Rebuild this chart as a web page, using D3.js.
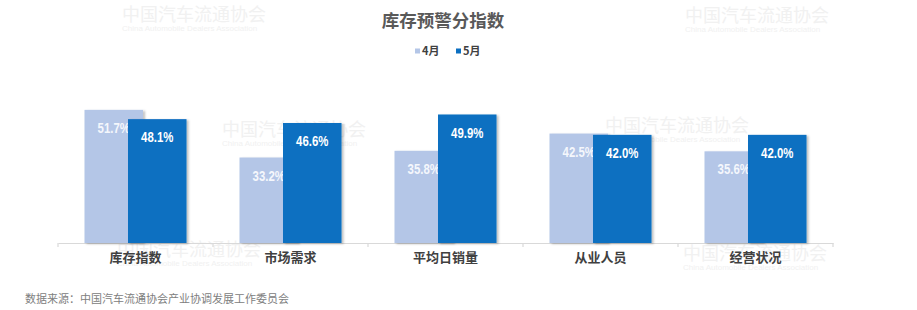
<!DOCTYPE html>
<html>
<head>
<meta charset="utf-8">
<script src="https://cdn.jsdelivr.net/npm/d3@7"></script>
<style>
  body { margin: 0; background: #fff; }
  svg { display: block; }
</style>
</head>
<body>
<svg id="chart" width="917" height="310"></svg>
<script>
// data
var categories = ["库存指数", "市场需求", "平均日销量", "从业人员", "经营状况"];
var series = ["4月", "5月"];
var april = [51.7, 33.2, 35.8, 42.5, 35.6];
var may = [48.1, 46.6, 49.9, 42.0, 42.0];
var colors = ["#b4c6e7", "#0b6fc1"];

var svg = d3.select("#chart"),
    margin = {top: 88.5, right: 84, bottom: 67, left: 58},
    width = +svg.attr("width") - margin.left - margin.right,
    height = +svg.attr("height") - margin.top - margin.bottom;

var cjk = "'Noto Sans CJK SC', 'Noto Sans', sans-serif";

// soft shadow under bars
var defs = svg.append("defs");
var f = defs.append("filter").attr("id", "shadow")
    .attr("x", "-10%").attr("y", "-10%").attr("width", "130%").attr("height", "130%");
f.append("feDropShadow")
    .attr("dx", 2).attr("dy", 1).attr("stdDeviation", 1.2)
    .attr("flood-color", "#000").attr("flood-opacity", 0.25);

// faint watermarks
var marks = [[122, 21], [685, 22], [222, 136], [605, 132], [117, 256], [683, 260]];
var wm = svg.append("g").attr("fill", "#f1f1f1");
marks.forEach(function(m) {
  wm.append("text")
      .attr("x", m[0]).attr("y", m[1])
      .style("font", "18px " + cjk)
      .text("中国汽车流通协会");
  wm.append("text")
      .attr("x", m[0]).attr("y", m[1] + 10)
      .style("font", "8px 'Liberation Sans', sans-serif")
      .text("China Automobile Dealers Association");
});

var g = svg.append("g").attr("transform", "translate(" + margin.left + "," + margin.top + ")");

var x = d3.scaleBand().domain(categories).range([0, width]);
var x1 = d3.scaleBand().domain(series).range([-51, 51]).paddingInner(-0.345);
var y = d3.scaleLinear().domain([0, 60]).range([height, 0]);

// axis
var axis = g.append("g")
    .attr("transform", "translate(0," + height + ")")
    .call(d3.axisBottom(x).tickSize(0).tickPadding(10));
axis.select(".domain").attr("stroke", "#d9d9d9").attr("stroke-width", 1.2);
axis.selectAll(".tick text")
    .style("font", "600 13px " + cjk)
    .attr("fill", "#404040");
// separator ticks between categories
g.append("g").selectAll("line")
    .data(categories.concat(["end"]))
    .enter().append("line")
    .attr("x1", function(d, i) { return i * x.step(); })
    .attr("x2", function(d, i) { return i * x.step(); })
    .attr("y1", height).attr("y2", height + 4)
    .attr("stroke", "#d9d9d9").attr("stroke-width", 1.2);

var values = [april, may];
var groups = g.selectAll(".grp")
    .data(categories)
    .enter().append("g")
    .attr("class", "grp")
    .attr("transform", function(d) { return "translate(" + (x(d) + x.bandwidth() / 2) + ",0)"; });

groups.each(function(c, i) {
  var grp = d3.select(this);
  series.forEach(function(s, k) {
    var v = values[k][i];
    grp.append("rect")
        .attr("x", x1(s))
        .attr("y", y(v))
        .attr("width", x1.bandwidth())
        .attr("height", height - y(v))
        .attr("fill", colors[k])
        .attr("filter", "url(#shadow)");
    // squeezed bold text to look like a narrow face
    grp.append("text")
        .attr("transform", "translate(" + (x1(s) + x1.bandwidth() / 2) + "," + (y(v) + 23) + ") scale(0.76,1)")
        .attr("text-anchor", "middle")
        .attr("fill", k == 0 ? "#f4f7fc" : "#fff")
        .style("font", "bold 15px 'Liberation Sans', Arial, sans-serif")
        .text(v.toFixed(1) + "%");
  });
});

// title
svg.append("text")
    .attr("x", 443).attr("y", 27)
    .attr("text-anchor", "middle")
    .style("font", "bold 17.5px " + cjk)
    .attr("fill", "#595959")
    .text("库存预警分指数");

// legend
var legX = [415, 456];
series.forEach(function(s, k) {
  svg.append("rect")
      .attr("x", legX[k]).attr("y", 48.5)
      .attr("width", 5).attr("height", 5)
      .attr("fill", colors[k]);
  svg.append("text")
      .attr("x", legX[k] + 7).attr("y", 55)
      .style("font", "bold 11px " + cjk)
      .attr("fill", "#404040")
      .text(s);
});

// source note
svg.append("text")
    .attr("x", 25).attr("y", 303)
    .style("font", "11px " + cjk)
    .attr("fill", "#808080")
    .text("数据来源：中国汽车流通协会产业协调发展工作委员会");
</script>
</body>
</html>
